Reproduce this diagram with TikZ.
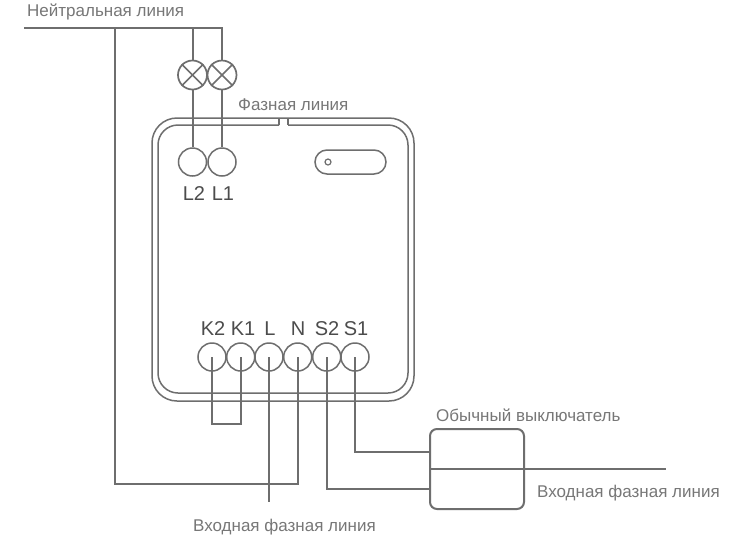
\documentclass[tikz,border=0pt]{standalone}
\usepackage{fontspec}
\setmainfont{Liberation Sans}
\definecolor{wire}{HTML}{6E6E6E}
\definecolor{caption}{HTML}{777777}
\begin{document}
\begin{tikzpicture}[x=1pt,y=-1pt,
wire/.style={draw=wire,line width=2pt},
shell/.style={draw=wire,line width=1.5pt},
terminal/.style={shape=circle,draw=wire,line width=1.5pt,minimum size=28pt,inner sep=0pt},
lamp/.style={shape=circle,draw=wire,line width=1.7pt,minimum size=29pt,inner sep=0pt},
cross/.style={draw=wire,line width=1.5pt},
pinlabel/.style={text=black!70,font=\fontsize{20}{20}\selectfont,inner sep=0pt},
caption/.style={text=caption,font=\fontsize{17}{19}\selectfont,inner sep=0pt,anchor=west}]
\useasboundingbox (0,0) rectangle (732,550);
\fill [white] (0,0) rectangle (732,550);
\draw [shell,rounded corners=25pt] (152,118) rectangle (414,401);
\draw [shell,rounded corners=20pt] (279,125) -- (158,125) -- (158,393) -- (408,393) -- (408,125) -- (288,125);
\draw [shell] (279,118) -- (279,125);
\draw [shell] (288,118) -- (288,125);
\draw [shell,rounded corners=12pt] (315,150) rectangle (386,174);
\node [shape=circle,draw=wire,line width=1.2pt,minimum size=6pt,inner sep=0pt] (led) at (328,162) {};
\node [terminal] (l2) at (192.5,162) {};
\node [terminal] (l1) at (222,162) {};
\node [pinlabel] (l2text) at (194,194) {L2};
\node [pinlabel] (l1text) at (223,194) {L1};
\node [lamp] (lampb) at (192.5,75) {};
\node [lamp] (lampa) at (222,75) {};
\draw [cross] (lampb.45) -- (lampb.225);
\draw [cross] (lampb.135) -- (lampb.315);
\draw [cross] (lampa.45) -- (lampa.225);
\draw [cross] (lampa.135) -- (lampa.315);
\node [terminal] (k2) at (212,357) {};
\node [terminal] (k1) at (240.7,357) {};
\node [terminal] (l) at (269,357) {};
\node [terminal] (n) at (297.7,357) {};
\node [terminal] (s2) at (326.7,357) {};
\node [terminal] (s1) at (355,357) {};
\node [pinlabel] (k2text) at (213,329) {K2};
\node [pinlabel] (k1text) at (243,329) {K1};
\node [pinlabel] (ltext) at (270,329) {L};
\node [pinlabel] (ntext) at (298,329) {N};
\node [pinlabel] (s2text) at (327,329) {S2};
\node [pinlabel] (s1text) at (356,329) {S1};
\draw [wire,rounded corners=7pt] (430,429) rectangle (524,509);
\node [minimum width=94pt,minimum height=80pt,inner sep=0pt] (switch) at (477,469) {};
\coordinate (linestart) at (24,27.5);
\coordinate (lineend) at (222,27.5);
\coordinate (lineturn) at (114.5,27.5);
\coordinate (lampdrop) at (192.5,27.5);
\coordinate (phaseend) at (666,469);
\coordinate (phasein) at (269,502);
\coordinate (nturn) at (297.7,483.5);
\coordinate (jumpera) at (212,424);
\coordinate (jumperb) at (240.7,424);
\coordinate (switchtop) at (430,451.7);
\coordinate (switchbottom) at (430,489);
\draw [wire] (linestart) -- (lineend) -- (lampa.north);
\draw [wire] (lampdrop) -- (lampb.north);
\draw [wire] (lampb.south) -- (l2.north);
\draw [wire] (lampa.south) -- (l1.north);
\draw [wire] (lineturn) |- (nturn) -- (n.center);
\draw [wire] (k2.center) -- (jumpera) -- (jumperb) -- (k1.center);
\draw [wire] (l.center) -- (phasein);
\draw [wire] (s2.center) |- (switchbottom);
\draw [wire] (s1.center) |- (switchtop);
\draw [wire] (switch.west) -- (phaseend);
\node [caption] (neutraltext) at (27,11.5) {Нейтральная линия};
\node [caption] (phasetext) at (238,105) {Фазная линия};
\node [caption] (switchtext) at (436,415) {Обычный выключатель};
\node [caption] (inputright) at (537,493.5) {Входная фазная линия};
\node [caption] (inputbottom) at (193,527) {Входная фазная линия};
\end{tikzpicture}
\end{document}
